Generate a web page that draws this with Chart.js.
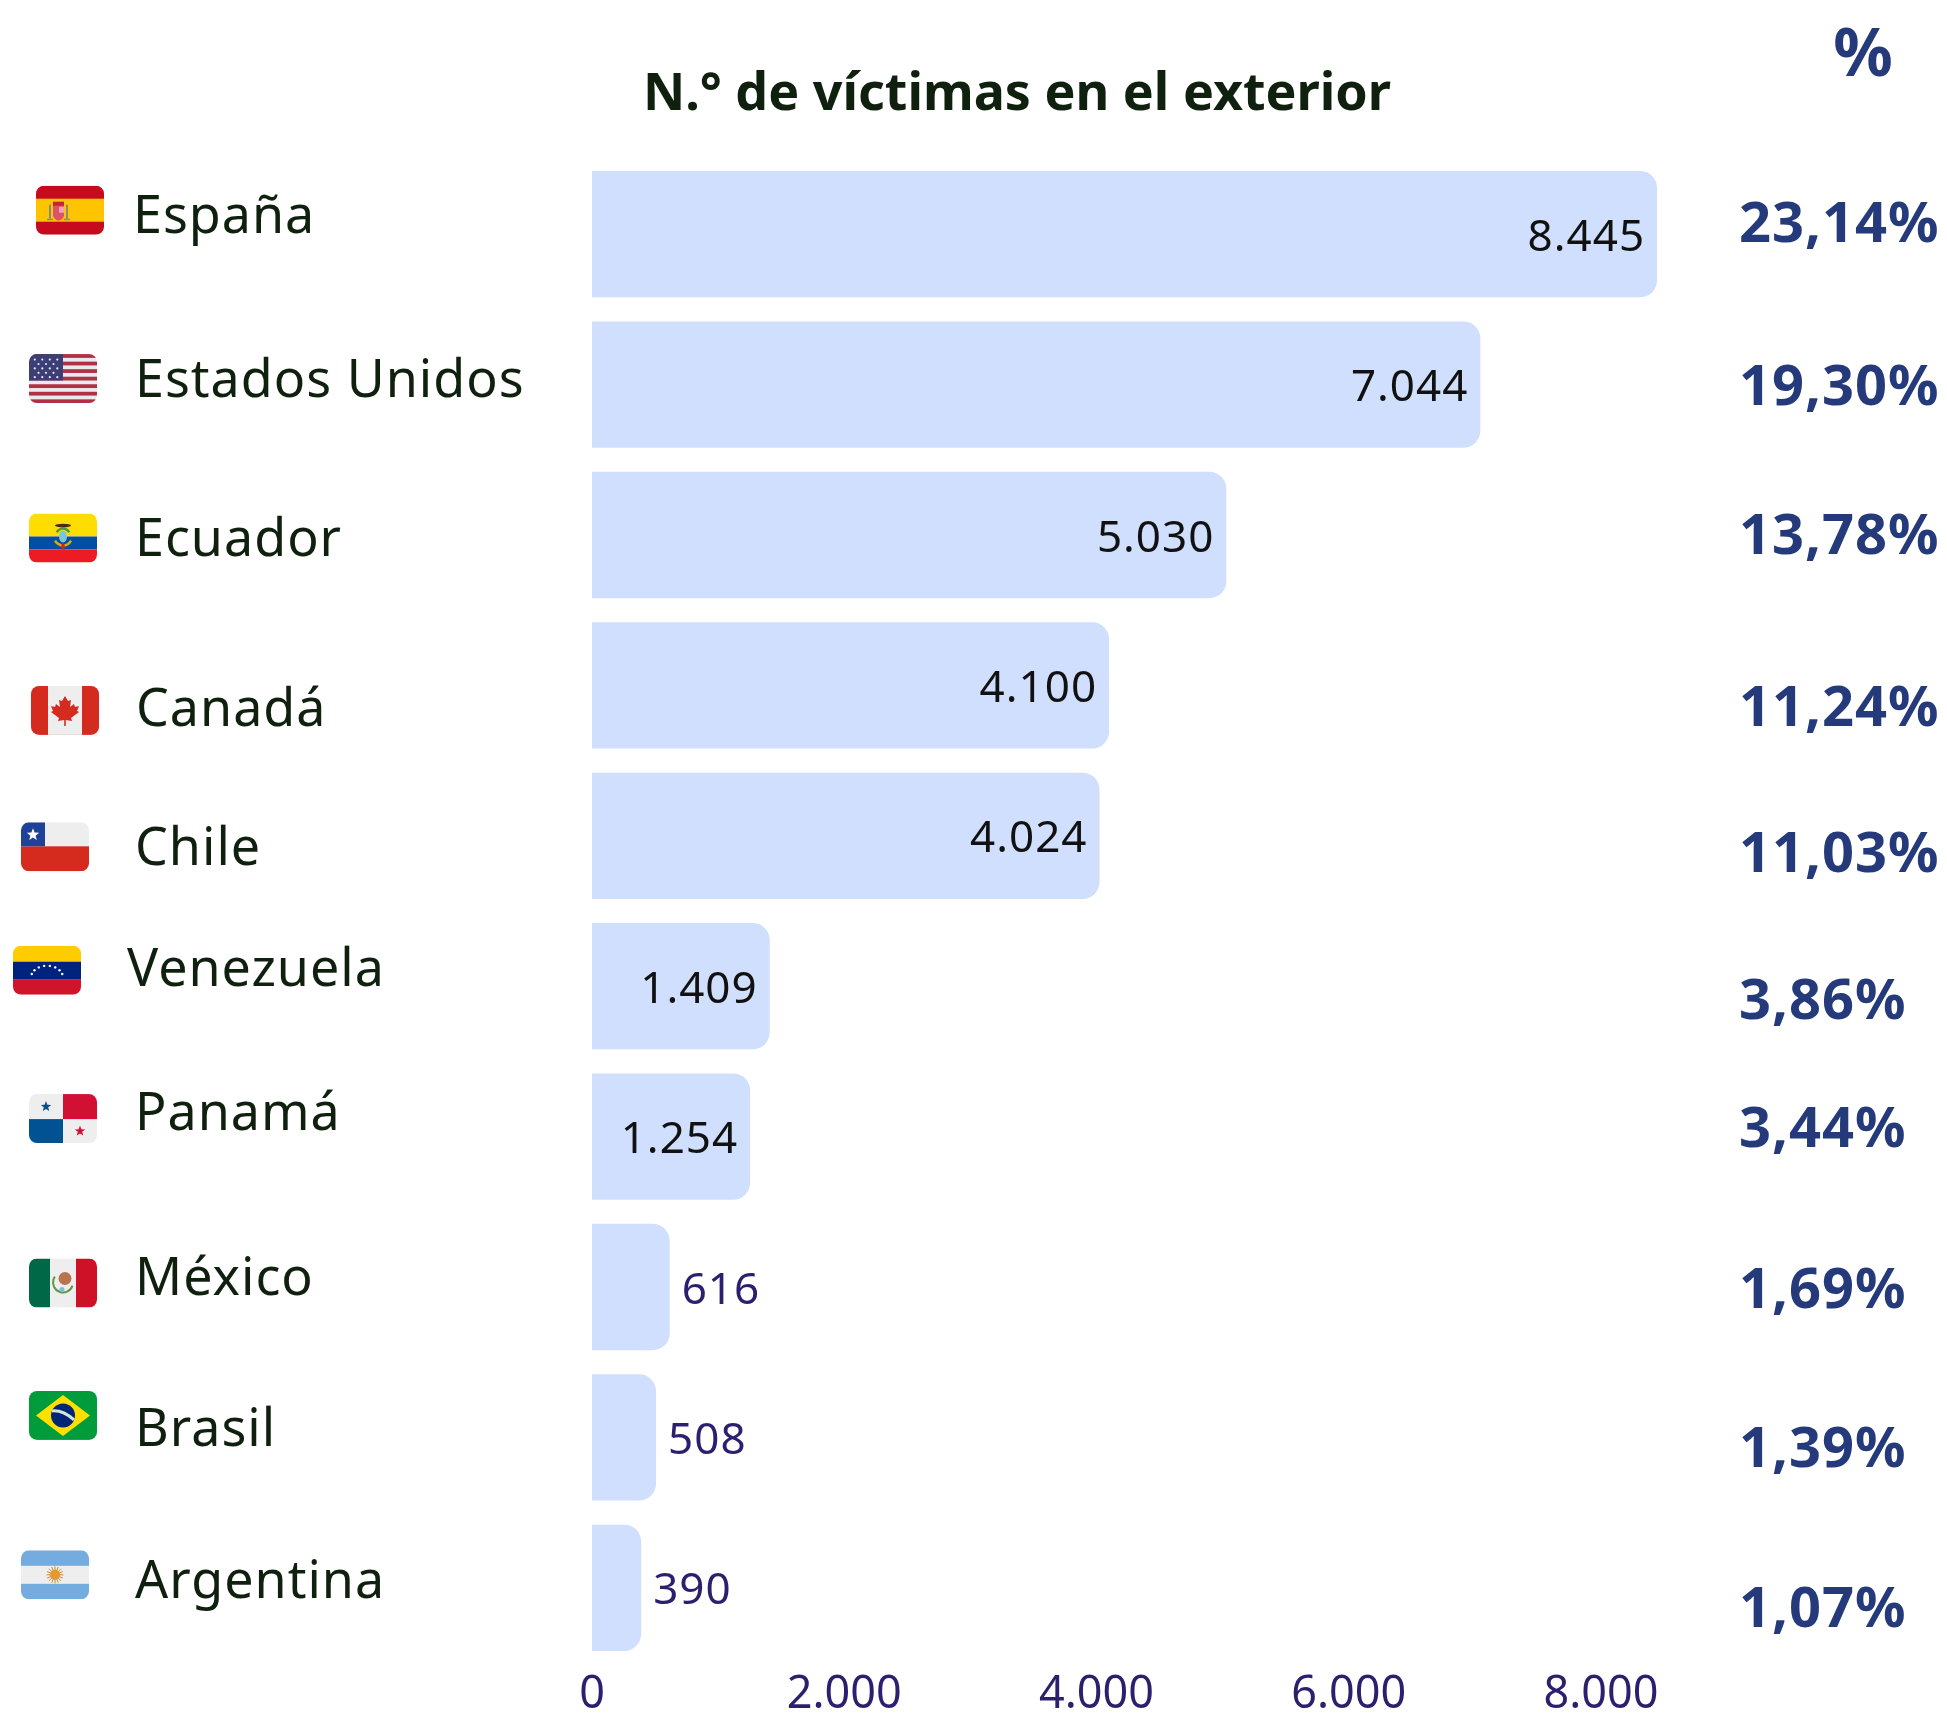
<!DOCTYPE html>
<html>
<head>
<meta charset="utf-8">
<title>N.° de víctimas en el exterior</title>
<script src="https://cdn.jsdelivr.net/npm/chart.js@4"></script>
<style>
  html, body { margin: 0; background: #ffffff; }
  #wrap { width: 1947px; height: 1715px; }
</style>
</head>
<body>
<div id="wrap"><canvas id="chart" width="1947" height="1715"></canvas></div>
<script>
const countries = ['España', 'Estados Unidos', 'Ecuador', 'Canadá', 'Chile', 'Venezuela', 'Panamá', 'México', 'Brasil', 'Argentina']
const victims = [8445, 7044, 5030, 4100, 4024, 1409, 1254, 616, 508, 390]
const shares = [23.14, 19.30, 13.78, 11.24, 11.03, 3.86, 3.44, 1.69, 1.39, 1.07]
const xTicks = [0, 2000, 4000, 6000, 8000]
const flagCodes = ['es', 'us', 'ec', 'ca', 'cl', 've', 'pa', 'mx', 'br', 'ar']

// the source image was hand-assembled, so its side columns do not line up with the bars
const labelX = [133, 135, 135, 136, 135, 127, 135, 135, 135, 135]
const labelShift = [-16, -2, 6, 26, 14, -15, -21, -7, -6, -5]
const flagX = [36, 29, 29, 31, 21, 13, 29, 29, 29, 21]
const flagShift = [-24, -6, 3, 25, 11, -16, -18, -4, -22, -13]
const shareShift = [-8, 4, 3, 25, 20, 17, -6, 5, 14, 23]

const FONT = "'Noto Sans', sans-serif"
const DARK = '#10200f'
const NAVY = '#243a7a'
const PURPLE = '#2b1f6e'
const FLAG_W = 68
const FLAG_H = 49

function formatThousands(n) {
  return String(n).replace(/\B(?=(\d{3})+$)/g, '.')
}

function star(ctx, cx, cy, r, color) {
  ctx.fillStyle = color
  ctx.beginPath()
  for (let i = 0; i < 10; i++) {
    const a = -Math.PI / 2 + (i * Math.PI) / 5
    const rr = i % 2 ? r * 0.42 : r
    ctx.lineTo(cx + rr * Math.cos(a), cy + rr * Math.sin(a))
  }
  ctx.closePath()
  ctx.fill()
}

function hBands(ctx, stops) {
  // stops: [color, from, to] in flag units
  stops.forEach(([color, from, to]) => {
    ctx.fillStyle = color
    ctx.fillRect(0, from, FLAG_W, to - from)
  })
}

function vBands(ctx, stops) {
  stops.forEach(([color, from, to]) => {
    ctx.fillStyle = color
    ctx.fillRect(from, 0, to - from, FLAG_H)
  })
}

function disc(ctx, x, y, r, color) {
  ctx.fillStyle = color
  ctx.beginPath()
  ctx.arc(x, y, r, 0, Math.PI * 2)
  ctx.fill()
}

const flagPainters = {
  es(ctx) {
    hBands(ctx, [['#c60b1e', 0, 49], ['#ffc400', 13, 36]])
    ctx.fillStyle = '#8a8a80'
    ctx.fillRect(13, 19, 2, 14)
    ctx.fillRect(30, 19, 2, 14)
    ctx.fillRect(11, 33, 6, 1.5)
    ctx.fillRect(28, 33, 6, 1.5)
    ctx.fillStyle = '#d9536b'
    ctx.beginPath()
    ctx.moveTo(17, 19)
    ctx.lineTo(28, 19)
    ctx.lineTo(28, 30)
    ctx.quadraticCurveTo(27, 34, 22.5, 35)
    ctx.quadraticCurveTo(18, 34, 17, 30)
    ctx.closePath()
    ctx.fill()
    ctx.fillStyle = '#f4a0b0'
    ctx.fillRect(23, 21, 5, 6)
    ctx.fillStyle = '#c8223a'
    ctx.fillRect(17, 16, 11, 4)
  },
  us(ctx) {
    ctx.fillStyle = '#e9e9ee'
    ctx.fillRect(0, 0, FLAG_W, FLAG_H)
    ctx.fillStyle = '#b22f45'
    for (let i = 0; i < 7; i++) ctx.fillRect(0, i * 7.54, FLAG_W, 3.77)
    ctx.fillStyle = '#3c3f75'
    ctx.fillRect(0, 0, 34, 26.4)
    for (let r = 0; r < 5; r++) {
      const n = r % 2 ? 3 : 4
      for (let c = 0; c < n; c++) {
        disc(ctx, (r % 2 ? 9.5 : 5.8) + c * 7.5, 5.5 + r * 4.4, 1.1, '#e8e8f0')
      }
    }
  },
  ec(ctx) {
    hBands(ctx, [['#ffdd00', 0, 23], ['#034ea2', 23, 36], ['#ed1c24', 36, 49]])
    ctx.lineWidth = 2.5
    ctx.strokeStyle = '#d9a90a'
    ctx.beginPath()
    ctx.arc(34, 23, 9, Math.PI * 0.85, Math.PI * 2.15, true)
    ctx.stroke()
    ctx.strokeStyle = '#4c9a3c'
    ctx.beginPath()
    ctx.arc(34, 22, 7, Math.PI * 1.15, Math.PI * 1.85)
    ctx.stroke()
    ctx.fillStyle = '#7fc4d8'
    ctx.beginPath()
    ctx.ellipse(34, 23, 4, 6, 0, 0, Math.PI * 2)
    ctx.fill()
    ctx.fillStyle = '#4a2c12'
    ctx.beginPath()
    ctx.ellipse(34, 12, 8, 1.8, 0, 0, Math.PI * 2)
    ctx.fill()
    ctx.fillStyle = '#c8222a'
    ctx.fillRect(32.5, 30, 3, 6)
  },
  ca(ctx) {
    vBands(ctx, [['#d52b1e', 0, 68], ['#eeeeee', 17, 51]])
    ctx.fillStyle = '#d52b1e'
    const leaf = [[0, -13], [3, -8], [6, -9], [5, -2], [9, -5], [10, -2], [14, -3], [12, 2], [14, 3], [6, 9], [7, 12], [0.8, 11],
      [0.8, 17], [-0.8, 17], [-0.8, 11], [-7, 12], [-6, 9], [-14, 3], [-12, 2], [-14, -3], [-10, -2], [-9, -5], [-5, -2], [-6, -9], [-3, -8]]
    ctx.beginPath()
    leaf.forEach(([x, y]) => ctx.lineTo(34 + x, 23 + y))
    ctx.closePath()
    ctx.fill()
  },
  cl(ctx) {
    hBands(ctx, [['#eeeeee', 0, 24], ['#d52b1e', 24, 49]])
    ctx.fillStyle = '#1f4299'
    ctx.fillRect(0, 0, 24, 24)
    star(ctx, 12, 12.5, 6.5, '#ffffff')
  },
  ve(ctx) {
    hBands(ctx, [['#ffcc00', 0, 16], ['#00247d', 16, 34], ['#cf142b', 34, 49]])
    for (let i = 0; i < 8; i++) {
      const a = Math.PI * (1.1 + (i * 0.8) / 7)
      disc(ctx, 34 + 16 * Math.cos(a), 32 + 12 * Math.sin(a), 1.2, '#ffffff')
    }
  },
  pa(ctx) {
    ctx.fillStyle = '#eeeeee'
    ctx.fillRect(0, 0, FLAG_W, FLAG_H)
    ctx.fillStyle = '#d21034'
    ctx.fillRect(34, 0, 34, 25)
    ctx.fillStyle = '#005293'
    ctx.fillRect(0, 25, 34, 24)
    star(ctx, 17, 12.5, 5.5, '#005293')
    star(ctx, 51, 37, 5.5, '#d21034')
  },
  mx(ctx) {
    vBands(ctx, [['#006847', 0, 21], ['#eeeeee', 21, 47], ['#ce1126', 47, 68]])
    ctx.strokeStyle = '#5c9a45'
    ctx.lineWidth = 2
    ctx.beginPath()
    ctx.arc(34, 24, 10, Math.PI * 0.1, Math.PI * 1.2)
    ctx.stroke()
    disc(ctx, 36, 20, 6.5, '#b9744f')
    disc(ctx, 33, 31, 2.5, '#7fbde0')
  },
  br(ctx) {
    ctx.fillStyle = '#009c3b'
    ctx.fillRect(0, 0, FLAG_W, FLAG_H)
    ctx.fillStyle = '#ffdf00'
    ctx.beginPath()
    ctx.moveTo(34, 4)
    ctx.lineTo(61, 24.5)
    ctx.lineTo(34, 45)
    ctx.lineTo(7, 24.5)
    ctx.closePath()
    ctx.fill()
    disc(ctx, 34, 24.5, 12, '#002776')
    ctx.strokeStyle = '#d8e4d8'
    ctx.lineWidth = 3
    ctx.beginPath()
    ctx.moveTo(23, 20)
    ctx.quadraticCurveTo(34, 19, 45, 29)
    ctx.stroke()
  },
  ar(ctx) {
    hBands(ctx, [['#74acdf', 0, 49], ['#eeeeee', 15.5, 33.5]])
    ctx.strokeStyle = '#c98a2c'
    ctx.lineWidth = 1
    for (let i = 0; i < 16; i++) {
      const a = (i * Math.PI) / 8
      ctx.beginPath()
      ctx.moveTo(34, 24.5)
      ctx.lineTo(34 + 8.5 * Math.cos(a), 24.5 + 8.5 * Math.sin(a))
      ctx.stroke()
    }
    disc(ctx, 34, 24.5, 5, '#e09a35')
  },
}

function drawFlag(ctx, code, x, y) {
  ctx.save()
  ctx.translate(x, y)
  ctx.beginPath()
  ctx.roundRect(0, 0, FLAG_W, FLAG_H, 8)
  ctx.clip()
  flagPainters[code](ctx)
  ctx.restore()
}

const sideColumns = {
  id: 'sideColumns',
  afterDatasetsDraw(chart) {
    const { ctx, scales: { y } } = chart
    const meta = chart.getDatasetMeta(0)
    ctx.save()
    ctx.textBaseline = 'middle'

    ctx.textAlign = 'center'
    ctx.fillStyle = DARK
    ctx.font = `700 52px ${FONT}`
    ctx.fillText('N.° de víctimas en el exterior', 1017, 95)
    ctx.fillStyle = NAVY
    ctx.font = `700 66px ${FONT}`
    ctx.fillText('%', 1863, 57)

    countries.forEach((name, i) => {
      const center = y.getPixelForValue(i)
      ctx.textAlign = 'left'
      ctx.fillStyle = DARK
      ctx.letterSpacing = '1px'
      ctx.font = `400 52px ${FONT}`
      ctx.fillText(name, labelX[i], center + labelShift[i])
      drawFlag(ctx, flagCodes[i], flagX[i], center - FLAG_H / 2 + flagShift[i])

      ctx.fillStyle = NAVY
      ctx.font = `700 56px ${FONT}`
      ctx.fillText(shares[i].toFixed(2).replace('.', ',') + '%', 1739, center + shareShift[i])

      const bar = meta.data[i]
      const inside = victims[i] > 1000
      ctx.textAlign = inside ? 'right' : 'left'
      ctx.fillStyle = inside ? '#111111' : PURPLE
      ctx.font = `400 44px ${FONT}`
      ctx.fillText(formatThousands(victims[i]), bar.x + (inside ? -12 : 12), bar.y + 4)
      ctx.letterSpacing = '0px'
    })
    ctx.restore()
  },
}

new Chart(document.getElementById('chart'), {
  type: 'bar',
  data: {
    labels: countries,
    datasets: [{
      data: victims,
      backgroundColor: '#d0dffd',
      borderRadius: 17,
      borderSkipped: 'left',
      categoryPercentage: 1,
      barPercentage: 0.84,
    }],
  },
  options: {
    indexAxis: 'y',
    responsive: false,
    animation: false,
    layout: { padding: { left: 592, right: 283, top: 159, bottom: 0 } },
    plugins: { legend: { display: false }, tooltip: { enabled: false } },
    scales: {
      x: {
        min: 0,
        max: 8500,
        border: { display: false },
        grid: { display: false, drawTicks: false },
        afterFit(scale) { scale.height = 52 },
        afterBuildTicks(scale) { scale.ticks = xTicks.map((value) => ({ value })) },
        ticks: {
          padding: 5,
          maxRotation: 0,
          color: PURPLE,
          font: { family: FONT, size: 45 },
          callback: (v) => formatThousands(v),
        },
      },
      y: { display: false },
    },
  },
  plugins: [sideColumns],
})
</script>
</body>
</html>
